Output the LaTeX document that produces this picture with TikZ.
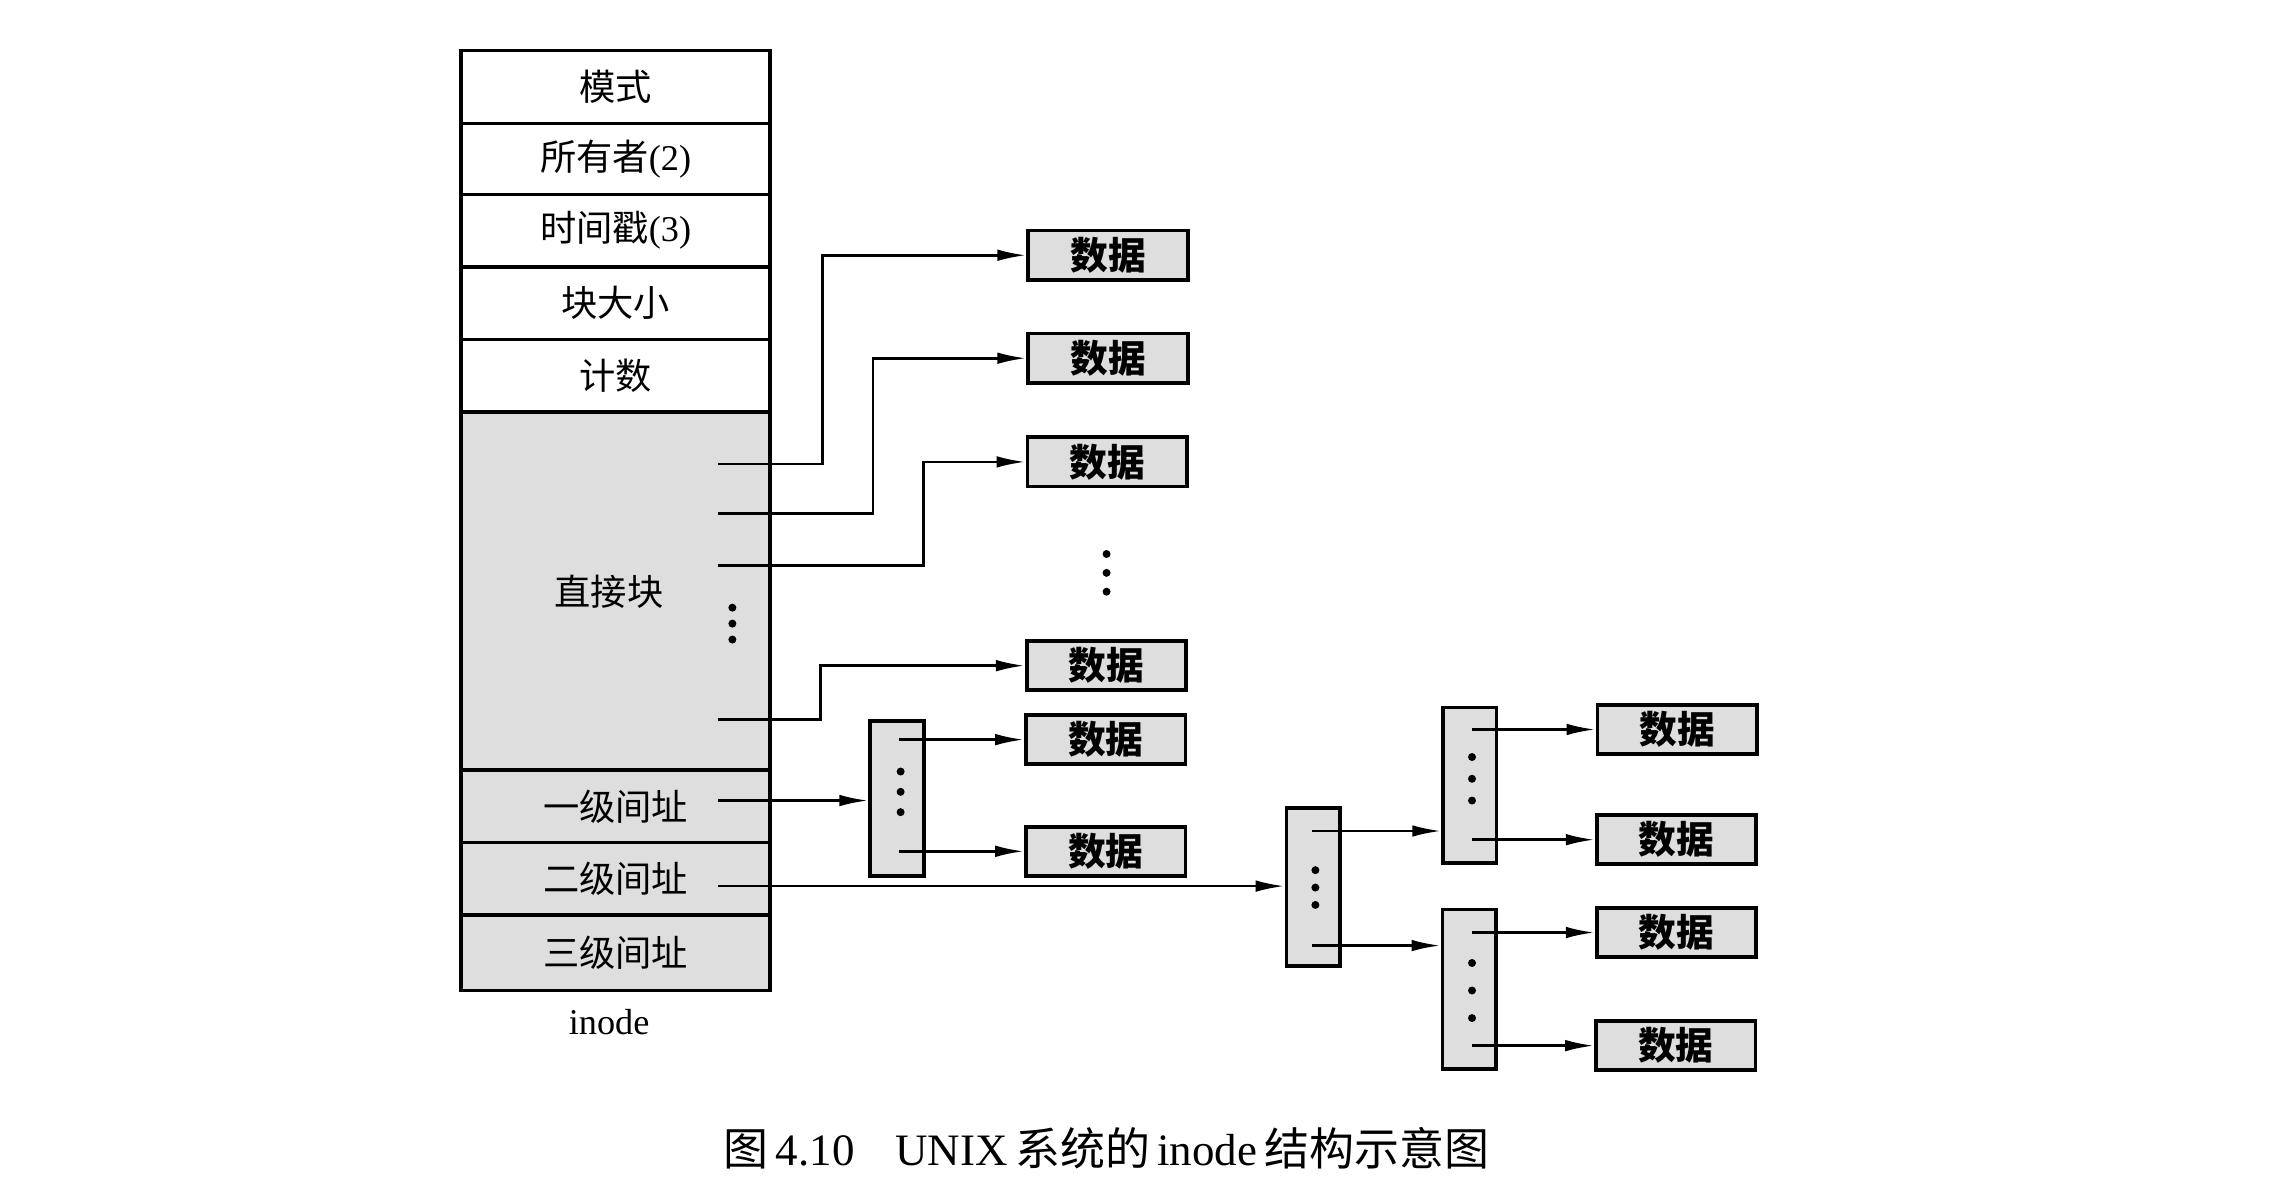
\documentclass[tikz,border=0pt]{standalone}
\usepackage{fontspec}
\setmainfont{Liberation Serif}
\newfontfamily\cjk{Noto Sans CJK SC}
\usetikzlibrary{arrows.meta}
\begin{document}
\begin{tikzpicture}[x=1pt,y=-1pt,
  cell/.style={draw,line width=2.4pt,minimum width=213pt,inner sep=0pt,font=\fontsize{25}{29}\selectfont},
  shaded/.style={fill=black!13},
  databox/.style={draw,line width=2.6pt,fill=black!13,minimum width=110pt,minimum height=34pt,inner sep=0pt,font=\fontsize{26}{28}\selectfont\cjk\bfseries},
  idx/.style={draw,line width=2.4pt,fill=black!13,minimum width=37pt,inner sep=0pt},
  arr/.style={line width=1.9pt,-{Latex[length=20pt,width=8pt]}},
  dot/.style={circle,fill=black,inner sep=0pt,minimum size=5.5pt}]
\useasboundingbox (0,0) rectangle (1568,818);
% inode table
\node[cell,minimum height=50pt] (mode) at (424.5,60) {\cjk 模式};
\node[cell,minimum height=49pt] (owner) at (424.5,109.5) {{\cjk 所有者}(2)};
\node[cell,minimum height=50pt] (time) at (424.5,159) {{\cjk 时间戳}(3)};
\node[cell,minimum height=50pt] (bsize) at (424.5,209) {\cjk 块大小};
\node[cell,minimum height=50pt] (count) at (424.5,259) {\cjk 计数};
\node[cell,shaded,minimum height=247pt] (direct) at (424.5,407.5) {};
\node (directlbl) at (420,408) {\fontsize{25}{29}\selectfont\cjk 直接块};
\node[cell,shaded,minimum height=50pt] (ind1) at (424.5,556) {\cjk 一级间址};
\node[cell,shaded,minimum height=50pt] (ind2) at (424.5,606) {\cjk 二级间址};
\node[cell,shaded,minimum height=52pt] (ind3) at (424.5,657) {\cjk 三级间址};
\node[font=\fontsize{25}{29}\selectfont] (inodelbl) at (420,705) {inode};
% dots in direct block
\node[dot] (dd1) at (505,419) {};
\node[dot] (dd2) at (505,430) {};
\node[dot] (dd3) at (505,441) {};
% data boxes for direct blocks
\node[databox] (d1) at (764,176) {数据};
\node[databox] (d2) at (764,247) {数据};
\node[databox] (d3) at (763.5,318.5) {数据};
\node[databox] (d4) at (763,459) {数据};
\node[dot] (cd1) at (763,382) {};
\node[dot] (cd2) at (763,395) {};
\node[dot] (cd3) at (763,408) {};
% direct pointers
\coordinate (p1) at (495,320);
\coordinate (p2) at (495,354);
\coordinate (p3) at (495,390);
\coordinate (p4) at (495,496);
\draw[arr] (p1) -- ++(72,0) |- (d1.west);
\draw[arr] (p2) -- ++(107,0) |- (d2.west);
\draw[arr] (p3) -- ++(142,0) |- (d3.west);
\draw[arr] (p4) -- ++(71,0) |- (d4.west);
% single indirect
\node[idx,minimum height=107pt] (s1) at (618.5,550.5) {};
\node[dot] (sd1) at (621,532) {};
\node[dot] (sd2) at (621,546) {};
\node[dot] (sd3) at (621,560) {};
\node[databox] (d5) at (762.5,510) {数据};
\node[databox] (d6) at (762.5,587) {数据};
\coordinate (p5) at (495,552);
\draw[arr] (p5) -- (s1.west |- p5);
\coordinate (q1) at (620,510);
\coordinate (q2) at (620,587);
\draw[arr] (q1) -- (d5.west);
\draw[arr] (q2) -- (d6.west);
% double indirect
\node[idx,minimum height=109pt] (dbl) at (905.5,611.5) {};
\node[dot] (bd1) at (907,600) {};
\node[dot] (bd2) at (907,612) {};
\node[dot] (bd3) at (907,624) {};
\coordinate (p6) at (495,611);
\draw[arr] (p6) -- (dbl.west |- p6);
\node[idx,minimum height=107pt] (dA) at (1013.5,541.5) {};
\node[idx,minimum height=110pt] (dB) at (1013,682) {};
\node[dot] (ad1) at (1015,522) {};
\node[dot] (ad2) at (1015,537) {};
\node[dot] (ad3) at (1015,552) {};
\node[dot] (bd4) at (1015,664) {};
\node[dot] (bd5) at (1015,683) {};
\node[dot] (bd6) at (1015,702) {};
\coordinate (r1) at (905,573);
\coordinate (r2) at (905,652);
\draw[arr] (r1) -- (dA.west |- r1);
\draw[arr] (r2) -- (dB.west |- r2);
\node[databox] (d7) at (1156.5,503) {数据};
\node[databox] (d8) at (1156,579) {数据};
\node[databox] (d9) at (1156,643) {数据};
\node[databox] (d10) at (1155.5,721) {数据};
\coordinate (t1) at (1015,503);
\coordinate (t2) at (1015,579);
\coordinate (t3) at (1015,643);
\coordinate (t4) at (1015,721);
\draw[arr] (t1) -- (d7.west);
\draw[arr] (t2) -- (d8.west);
\draw[arr] (t3) -- (d9.west);
\draw[arr] (t4) -- (d10.west);
% caption
\node[font=\fontsize{31}{35}\selectfont] (caption) at (763,792) {{\cjk 图}\,4.10\hspace{28pt}UNIX\,{\cjk 系统的}\,inode\,{\cjk 结构示意图}};
\end{tikzpicture}
\end{document}
